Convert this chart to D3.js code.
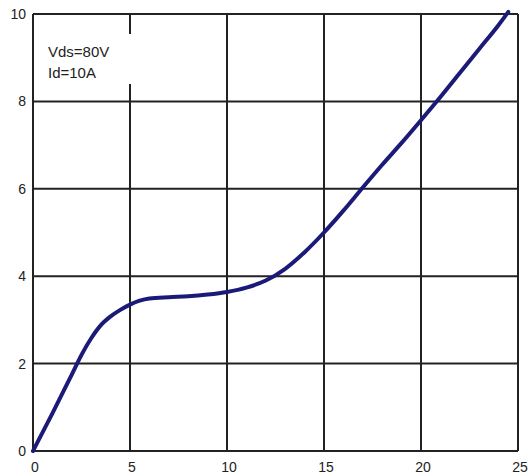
<html>
<head>
<script src="https://d3js.org/d3.v7.min.js"></script>
<style>
  body { margin: 0; padding: 0; background: #fff; }
  text { font-family: "Liberation Sans", Arial, sans-serif; fill: #222; }
</style>
</head>
<body>
<svg id="chart" width="528" height="476"></svg>
<script>
// gate voltage vs gate charge
var qg = [0, 1, 2, 2.5, 3, 3.5, 4, 4.5, 5, 5.5, 6, 7, 8, 9, 10, 11, 12, 13, 14, 15, 16, 17, 18, 19, 20, 21, 22, 23, 24, 24.5];
var vgs = [0, 0.86, 1.75, 2.2, 2.58, 2.88, 3.08, 3.23, 3.35, 3.44, 3.49, 3.52, 3.54, 3.58, 3.64, 3.74, 3.9, 4.17, 4.55, 5.0, 5.5, 6.03, 6.55, 7.05, 7.57, 8.1, 8.65, 9.2, 9.75, 10.05];
var xTicks = [0, 5, 10, 15, 20, 25];
var yTicks = [0, 2, 4, 6, 8, 10];
var notes = ["Vds=80V", "Id=10A"];

var svg = d3.select("#chart");
var pLeft = 33, pRight = 518, pTop = 14, pBottom = 451;

var x = d3.scaleLinear().domain([0, 25]).range([pLeft, pRight]);
var y = d3.scaleLinear().domain([0, 10]).range([pBottom, pTop]);

// grid
svg.append("g").selectAll("line")
  .data(xTicks)
  .enter().append("line")
  .attr("x1", function(d) { return x(d); })
  .attr("x2", function(d) { return x(d); })
  .attr("y1", pTop).attr("y2", pBottom)
  .attr("stroke", "#222").attr("stroke-width", 2);

svg.append("g").selectAll("line")
  .data(yTicks)
  .enter().append("line")
  .attr("x1", pLeft).attr("x2", pRight)
  .attr("y1", function(d) { return y(d); })
  .attr("y2", function(d) { return y(d); })
  .attr("stroke", "#222").attr("stroke-width", 2);

// tick labels
svg.append("g").selectAll("text")
  .data(yTicks)
  .enter().append("text")
  .attr("x", 26)
  .attr("y", function(d) { return y(d) + 5; })
  .attr("text-anchor", "end")
  .attr("font-size", 14)
  .text(function(d) { return d; });

svg.append("g").selectAll("text")
  .data(xTicks)
  .enter().append("text")
  .attr("x", function(d) { return x(d) + 2; })
  .attr("y", 472)
  .attr("text-anchor", "middle")
  .attr("font-size", 14)
  .text(function(d) { return d; });

// note box
svg.append("rect")
  .attr("x", 42).attr("y", 34)
  .attr("width", 92).attr("height", 50)
  .attr("fill", "#fff");

svg.append("g").selectAll("text")
  .data(notes)
  .enter().append("text")
  .attr("x", 48)
  .attr("y", function(d, i) { return 57 + i * 21; })
  .attr("font-size", 15)
  .text(function(d) { return d; });

// curve
var line = d3.line()
  .x(function(d, i) { return x(qg[i]); })
  .y(function(d) { return y(d); })
  .curve(d3.curveMonotoneX);

svg.append("path")
  .datum(vgs)
  .attr("d", line)
  .attr("fill", "none")
  .attr("stroke", "#1c1a78")
  .attr("stroke-width", 4)
  .attr("stroke-linecap", "round");
</script>
</body>
</html>
